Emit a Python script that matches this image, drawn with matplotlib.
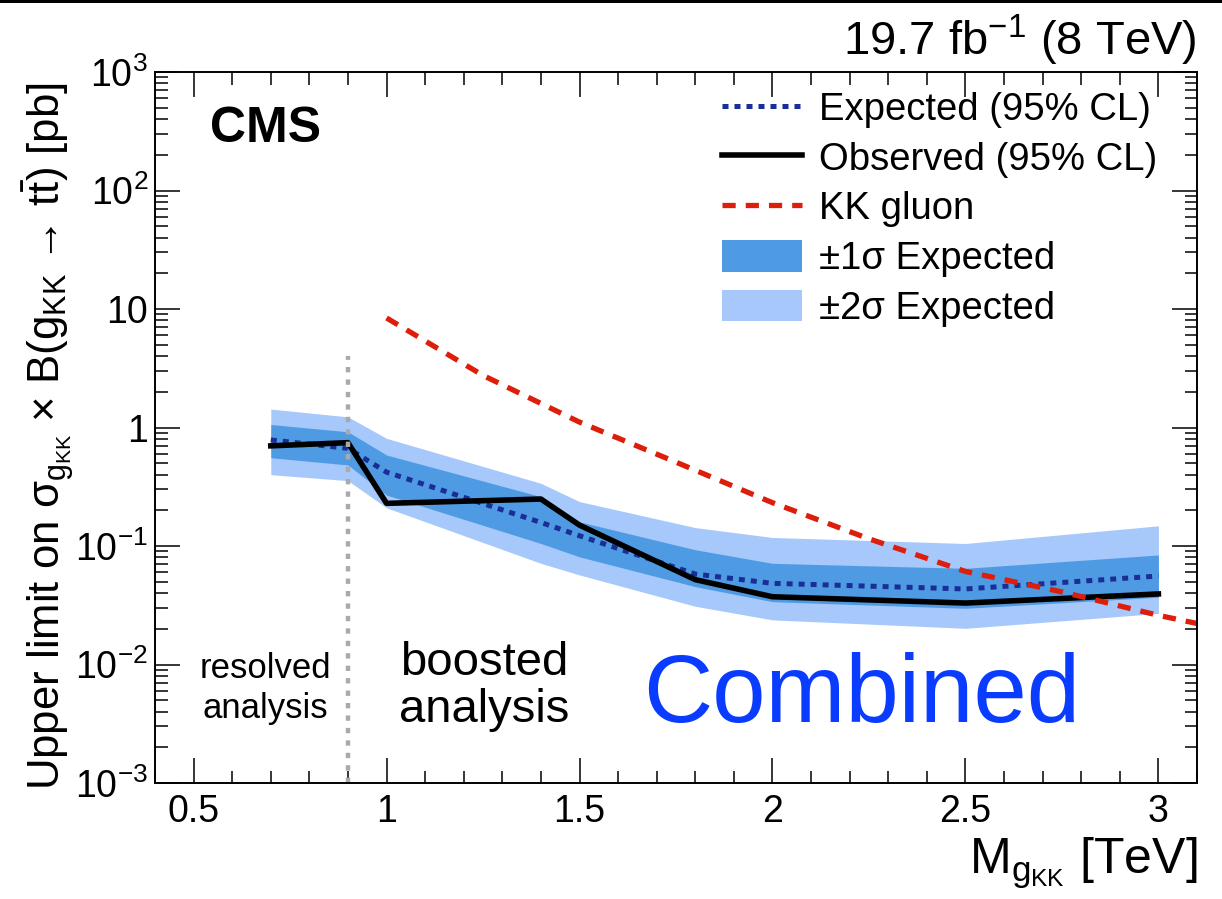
import matplotlib
matplotlib.use("Agg")
import matplotlib.pyplot as plt
from matplotlib.lines import Line2D
from matplotlib.patches import Patch, Rectangle
from matplotlib.ticker import FixedLocator, FixedFormatter, LogLocator, MultipleLocator

plt.rcParams['font.family'] = ['Liberation Sans', 'DejaVu Sans']
plt.rcParams['mathtext.fontset'] = 'custom'
plt.rcParams['mathtext.rm'] = 'Liberation Sans'
plt.rcParams['mathtext.it'] = 'Liberation Sans'
plt.rcParams['mathtext.bf'] = 'Liberation Sans:bold'

# limits vs mass (TeV)
mass = [0.7, 0.9, 1.0, 1.4, 1.5, 1.8, 2.0, 2.5, 3.0]
observed = [0.70, 0.745, 0.229, 0.249, 0.150, 0.052, 0.0373, 0.0330, 0.0394]
expected = [0.785, 0.667, 0.42, 0.158, 0.122, 0.058, 0.0484, 0.0434, 0.0558]
band1_lo = [0.556, 0.483, 0.269, 0.105, 0.081, 0.0454, 0.0339, 0.0298, 0.037]
band1_hi = [1.06, 0.92, 0.586, 0.261, 0.160, 0.093, 0.0714, 0.0648, 0.084]
band2_lo = [0.40, 0.356, 0.21, 0.0714, 0.057, 0.031, 0.0238, 0.0202, 0.027]
band2_hi = [1.43, 1.23, 0.81, 0.338, 0.237, 0.143, 0.118, 0.105, 0.148]

# KK gluon theory
kk_mass = [1.0, 1.25, 1.5, 1.75, 2.0, 2.25, 2.5, 2.75, 3.0, 3.25]
kk_xsec = [8.4, 2.75, 1.11, 0.51, 0.232, 0.115, 0.061, 0.041, 0.026, 0.0175]

boundary_mass = 0.9
boundary_top = 4.0

ytick_vals = [1e-3, 1e-2, 1e-1, 1, 10, 1e2, 1e3]
ytick_labels = [r'$10^{-3}$', r'$10^{-2}$', r'$10^{-1}$', '1', '10', r'$10^{2}$', r'$10^{3}$']

W, H = 1222, 899
fig = plt.figure(figsize=(W / 100, H / 100), dpi=100)
ax = fig.add_axes([155 / W, 1 - 783 / H, 1042 / W, 711 / H])

c_dark = '#4f9be3'
c_light = '#a6c8fb'
c_exp = '#1b2d96'
c_red = '#dc1e0a'

ax.fill_between(mass, band2_lo, band2_hi, color=c_light, lw=0)
ax.fill_between(mass, band1_lo, band1_hi, color=c_dark, lw=0)
ax.plot(mass, expected, color=c_exp, lw=3.6, linestyle=(0, (1.2, 1.2)))
ax.plot(mass, observed, color='black', lw=4)
ax.plot(kk_mass, kk_xsec, color=c_red, lw=3.8, linestyle=(0, (2.5, 1.9)))
ax.vlines(boundary_mass, 1e-3, boundary_top, color='#aaaaaa', lw=3.2,
          linestyle=(0, (1.2, 1.6)))

ax.set_yscale('log')
ax.set_xlim(0.4, 3.1)
ax.set_ylim(1e-3, 1e3)
ax.xaxis.set_minor_locator(MultipleLocator(0.1))
ax.xaxis.set_major_locator(FixedLocator([0.5, 1.0, 1.5, 2.0, 2.5, 3.0]))
ax.xaxis.set_major_formatter(FixedFormatter(['0.5', '1', '1.5', '2', '2.5', '3']))
ax.yaxis.set_major_locator(FixedLocator(ytick_vals))
ax.yaxis.set_major_formatter(FixedFormatter(ytick_labels))
ax.yaxis.set_minor_locator(LogLocator(base=10, subs=range(2, 10), numticks=20))
ax.tick_params(which='both', direction='in', top=True, right=True, width=1.1)
ax.tick_params(which='major', length=18, labelsize=27)
ax.tick_params(which='minor', length=9)
ax.tick_params(axis='x', which='major', pad=8)
ax.tick_params(axis='y', which='major', pad=5)
for s in ax.spines.values():
    s.set_linewidth(1.4)

ax.set_xlabel(r'M$_{g_{\mathrm{KK}}}$ [TeV]', fontsize=36, ha='right', x=1.0)
ax.set_ylabel(r'Upper limit on $\sigma_{g_{\mathrm{KK}}}$ × B($g_{\mathrm{KK}}$ → $\mathrm{t}\bar{\mathrm{t}}$) [pb]',
              fontsize=31.5)
ax.yaxis.set_label_coords(-0.075, 0.488)

handles = [
    Line2D([], [], color=c_exp, lw=3.6, linestyle=(0, (1.2, 1.2))),
    Line2D([], [], color='black', lw=4),
    Line2D([], [], color=c_red, lw=3.8, linestyle=(0, (2.5, 1.9))),
    Patch(facecolor=c_dark, edgecolor='none'),
    Patch(facecolor=c_light, edgecolor='none'),
]
labels = ['Expected (95% CL)', 'Observed (95% CL)', 'KK gluon',
          '±1σ Expected', '±2σ Expected']
ax.legend(handles, labels, loc='upper left', bbox_to_anchor=(0.544, 0.973),
          frameon=False, fontsize=27.5, handlelength=2.1, handleheight=0.9,
          handletextpad=0.45, labelspacing=0.33, borderpad=0, borderaxespad=0)


def px(x, y):
    return x / W, 1 - y / H


fig.text(*px(210, 142), 'CMS', fontsize=36, fontweight='bold', va='baseline')
fig.text(*px(1197, 55), r'19.7 fb$^{-1}$ (8 TeV)', fontsize=34, ha='right', va='baseline')
fig.text(*px(265, 678), 'resolved', fontsize=25, ha='center', va='baseline')
fig.text(*px(265, 718), 'analysis', fontsize=25, ha='center', va='baseline')
fig.text(*px(484, 675), 'boosted', fontsize=34, ha='center', va='baseline')
fig.text(*px(484, 722), 'analysis', fontsize=34, ha='center', va='baseline')
fig.text(*px(862, 722), 'Combined', fontsize=69, ha='center', va='baseline', color='#0a3cff')

fig.patches.append(Rectangle((0, 1 - 3 / H), 1, 3 / H, transform=fig.transFigure,
                             facecolor='black', edgecolor='none'))

fig.savefig('out.png', dpi=100)
